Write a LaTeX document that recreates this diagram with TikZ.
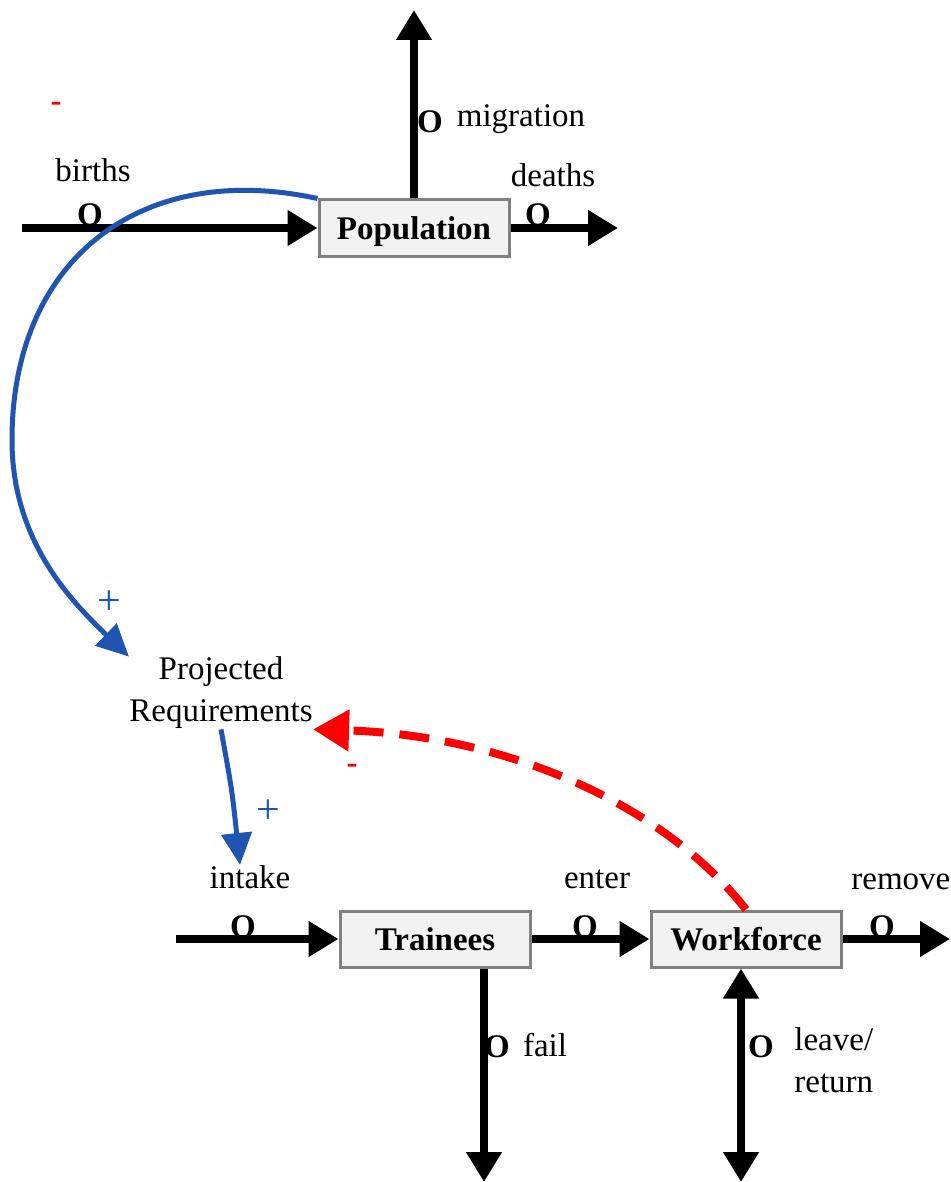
\documentclass[tikz,border=0pt]{standalone}
\usepackage{fontspec}
\setmainfont{Liberation Serif}
\usepackage{tikz}
\usetikzlibrary{arrows.meta,positioning,calc}
\definecolor{linkblue}{RGB}{31,85,176}
\newcommand{\dgfont}{\fontsize{16.5}{21}\selectfont}
\tikzset{
  stock/.style={rectangle, draw=gray, line width=1.5pt, fill=gray!10, minimum width=95pt, minimum height=28pt, font=\dgfont\bfseries, inner sep=2pt, text depth=0pt},
  flow/.style={line width=4pt, -{Triangle[length=15pt,width=17pt]}},
  biflow/.style={line width=4pt, {Triangle[length=15pt,width=17pt]}-{Triangle[length=15pt,width=17pt]}},
  valve/.style={font=\dgfont\bfseries, inner sep=0pt, anchor=base},
  lbl/.style={inner sep=0pt, font=\dgfont},
  plussign/.style={inner sep=0pt, text=linkblue, font=\fontsize{21}{24}\selectfont},
  minussign/.style={lbl, text=red, font=\dgfont\bfseries},
  infl/.style={draw=linkblue, line width=2.5pt, -{Triangle[length=16pt,width=15pt]}},
  negl/.style={draw=red, line width=4pt, dash pattern=on 15pt off 8pt, -{Triangle[length=18pt,width=20pt]}}
}

\begin{document}
\begin{tikzpicture}[x=0.5pt, y=-0.5pt]
\useasboundingbox (0,0) rectangle (951,1182);

% population chain
\node[stock] (pop) at (414,228) {Population};
\coordinate (birthsrc) at (22,228);
\coordinate (deathend) at (618,228);
\coordinate (migend) at (414,10);
\draw[flow] (birthsrc) -- (pop.west);
\draw[flow] (pop.east) -- (deathend);
\draw[flow] (pop.north) -- (migend);
\node[valve] (vbirth) at (90,226) {O};
\node[valve] (vdeath) at (538,226) {O};
\node[valve] (vmig) at (430,133) {O};
\node[lbl] (births) at (93,170) {births};
\node[lbl] (deaths) at (553,175) {deaths};
\node[lbl] (migration) at (521,119) {migration};
\node[minussign] (m1) at (56,107) {-};

% requirements
\node[lbl, align=center] (req) at (221,693) {Projected\\Requirements};
\coordinate (loopleft) at (12,440);
\draw[infl] (pop.north west) .. controls (140,160) and (12,260) .. (loopleft)
  .. controls (12,540) and (70,600) .. (req.north west);
\node[plussign] (p1) at (109,603) {+};

% training chain
\node[stock] (tr) at (435,939) {Trainees};
\node[stock] (wf) at (746,939) {Workforce};
\coordinate (intakesrc) at (176,939);
\coordinate (removeend) at (950,939);
\coordinate (failend) at (484,1182);
\coordinate (leaveend) at (741,1182);
\draw[flow] (intakesrc) -- (tr.west);
\draw[flow] (tr.east) -- (wf.west);
\draw[flow] (wf.east) -- (removeend);
\draw[flow] (tr.south -| failend) -- (failend);
\draw[biflow] (wf.south -| leaveend) -- (leaveend);
\node[valve] (vintake) at (243,937) {O};
\node[valve] (venter) at (585,937) {O};
\node[valve] (vremove) at (882,937) {O};
\node[valve] (vfail) at (497,1057) {O};
\node[valve] (vleave) at (761,1057) {O};
\node[lbl] (intake) at (250,877) {intake};
\node[lbl] (enter) at (597,879) {enter};
\node[lbl, anchor=west] (remove) at (851,882) {remove};
\node[lbl] (fail) at (545,1045) {fail};
\node[lbl, align=left, anchor=west] (leave) at (794,1060) {leave/\\return};

\draw[infl] (req.south) .. controls (232,790) .. ([xshift=-5pt]intake.north);
\node[plussign] (p2) at (268,812) {+};
\draw[negl] (wf.north) .. controls (660,800) and (500,735) .. (req.south east);
\node[minussign] (m2) at (352,769) {-};
\end{tikzpicture}
\end{document}
